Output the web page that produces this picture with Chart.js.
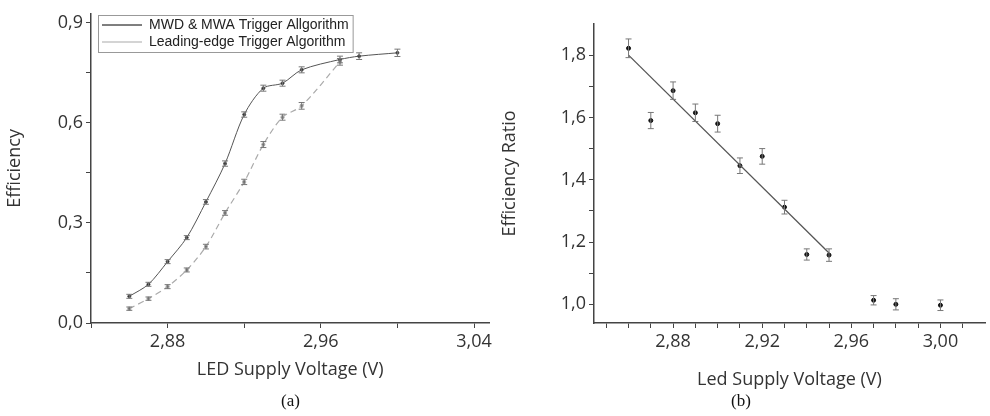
<!DOCTYPE html>
<html>
<head>
<meta charset="utf-8">
<script src="https://cdn.jsdelivr.net/npm/chart.js@4"></script>
<style>
body{margin:0;background:#fff;width:990px;height:416px;position:relative;overflow:hidden}
.c{position:absolute;top:0;height:395px}
.cap{position:absolute;top:391px;font:17px "Liberation Serif";color:#111}
</style>
</head>
<body>
<div class="c" style="left:0;width:495px"><canvas id="chartA"></canvas></div>
<div class="c" style="left:495px;width:495px"><canvas id="chartB"></canvas></div>
<div class="cap" style="left:281px">(a)</div>
<div class="cap" style="left:731px">(b)</div>
<script>
// (a) efficiency vs voltage
var voltA = [2.86,2.87,2.88,2.89,2.90,2.91,2.92,2.93,2.94,2.95,2.97,2.98,3.00];
var mwdEff = [0.080,0.116,0.184,0.256,0.363,0.478,0.625,0.704,0.719,0.759,0.790,0.800,0.810];
var mwdErr = [0.006,0.006,0.006,0.006,0.007,0.008,0.008,0.009,0.009,0.009,0.010,0.010,0.011];
var voltLead = [2.86,2.87,2.88,2.89,2.90,2.91,2.92,2.93,2.94,2.95,2.97];
var leadEff = [0.043,0.073,0.109,0.159,0.229,0.330,0.423,0.535,0.617,0.651,0.783];
var leadErr = [0.005,0.005,0.006,0.006,0.007,0.007,0.008,0.009,0.009,0.010,0.010];
var ticksXA = [2.84,2.88,2.92,2.96,3.00,3.04];
var labelsXA = [2.88,2.96,3.04];
var ticksYA = [0,0.15,0.3,0.45,0.6,0.75,0.9];
var labelsYA = [0,0.3,0.6,0.9];

// (b) efficiency ratio
var voltB = [2.86,2.87,2.88,2.89,2.90,2.91,2.92,2.93,2.94,2.95,2.97,2.98,3.00];
var ratio = [1.822,1.590,1.686,1.615,1.580,1.445,1.475,1.312,1.160,1.158,1.013,1.000,0.997];
var ratioErr = [0.030,0.026,0.028,0.028,0.027,0.025,0.025,0.022,0.018,0.020,0.015,0.018,0.017];
var fitX = [2.86,2.95];
var fitY = [1.800,1.165];
var ticksXB = [2.85,2.86,2.87,2.88,2.89,2.90,2.91,2.92,2.93,2.94,2.95,2.96,2.97,2.98,2.99,3.00,3.01];
var labelsXB = [2.88,2.92,2.96,3.00];
var ticksYB = [1.0,1.1,1.2,1.3,1.4,1.5,1.6,1.7,1.8];
var labelsYB = [1.0,1.2,1.4,1.6,1.8];

function pts(xs, ys){ return xs.map(function(x,i){ return {x:x, y:ys[i]}; }); }
function comma(v, d){ return v.toFixed(d).replace('.', ','); }
function has(list, v){ return list.some(function(l){ return Math.abs(l-v) < 1e-6; }); }

var errorBars = {
  id: 'errorBars',
  afterDatasetsDraw: function(chart){
    var ctx = chart.ctx, xs = chart.scales.x, ys = chart.scales.y;
    chart.data.datasets.forEach(function(ds){
      if(!ds.err) return;
      ctx.save();
      ctx.strokeStyle = '#777';
      ctx.lineWidth = 1;
      ds.data.forEach(function(p,i){
        var px = xs.getPixelForValue(p.x);
        var y1 = ys.getPixelForValue(p.y + ds.err[i]);
        var y2 = ys.getPixelForValue(p.y - ds.err[i]);
        ctx.beginPath();
        ctx.moveTo(px, y1); ctx.lineTo(px, y2);
        ctx.moveTo(px-3, y1); ctx.lineTo(px+3, y1);
        ctx.moveTo(px-3, y2); ctx.lineTo(px+3, y2);
        ctx.stroke();
      });
      ctx.restore();
    });
  }
};

// nudge the legend into the plot and frame it
var DX = 8, DY = 15;
var legendBox = {
  id: 'legendBox',
  afterLayout: function(chart){
    var lg = chart.legend;
    lg.left += DX; lg.right += DX; lg.top += DY; lg.bottom += DY;
    lg.legendHitBoxes.forEach(function(b){ b.left += DX; b.top += DY; });
  },
  afterDraw: function(chart){
    var hb = chart.legend.legendHitBoxes;
    if(!hb || !hb.length) return;
    var l = Math.min.apply(null, hb.map(function(b){ return b.left; })) - DX;
    var t = Math.min.apply(null, hb.map(function(b){ return b.top; }));
    var r = Math.max.apply(null, hb.map(function(b){ return b.left + b.width; })) - DX;
    var btm = Math.max.apply(null, hb.map(function(b){ return b.top + b.height; }));
    var ctx = chart.ctx;
    ctx.save();
    ctx.strokeStyle = '#999';
    ctx.lineWidth = 1;
    ctx.strokeRect(Math.round(l - 4) + 0.5, Math.round(t - 3) + 0.5, r - l + 8, btm - t + 6);
    ctx.restore();
  }
};

var font = {family: '"Open Sans"', size: 18};
function axis(min, max, tickList, labelList, dec, title, width, titlePad){
  return {
    type: 'linear', min: min, max: max,
    afterBuildTicks: function(s){ s.ticks = tickList.map(function(v){ return {value:v}; }); },
    ticks: { autoSkip:false, maxRotation:0, minRotation:0, color:'#333', font:font,
      callback: function(v){ return has(labelList, v) ? comma(v, dec) : ''; } },
    grid: { display:true, drawOnChartArea:false, drawTicks:true, tickLength:5, color:'#444' },
    border: { color:'#444', width:1.5 },
    title: { display:true, text:title, color:'#333', font:font, padding:titlePad || 4 },
    afterFit: function(s){ if(s.isHorizontal()) s.height = width; else s.width = width; }
  };
}

Chart.defaults.animation = false;

new Chart(document.getElementById('chartA'), {
  type: 'line',
  data: { datasets: [
    { label:'MWD & MWA Trigger Allgorithm', data:pts(voltA, mwdEff), err:mwdErr,
      borderColor:'#555', borderWidth:1, backgroundColor:'#111', pointRadius:1.5, tension:0.3 },
    { label:'Leading-edge Trigger Algorithm', data:pts(voltLead, leadEff), err:leadErr,
      borderColor:'#aaa', borderWidth:1.2, borderDash:[6,4], backgroundColor:'#555', pointRadius:1.5, tension:0.3 }
  ]},
  options: {
    responsive:true, maintainAspectRatio:false,
    layout:{ padding:{ top:13, right:0 } },
    plugins:{
      legend:{ position:'chartArea', align:'start',
        labels:{ font:{family:'"Liberation Sans"', size:14}, color:'#222', boxWidth:40, boxHeight:0, padding:3 } },
      tooltip:{ enabled:false }
    },
    scales:{
      x: axis(2.84, 3.048, ticksXA, labelsXA, 2, 'LED Supply Voltage (V)', 72, {top:0, bottom:14}),
      y: axis(0, 0.927, ticksYA, labelsYA, 1, 'Efficiency', 91)
    }
  },
  plugins:[errorBars, legendBox]
});

new Chart(document.getElementById('chartB'), {
  type: 'scatter',
  data: { datasets: [
    { label:'fit', data:pts(fitX, fitY), showLine:true, borderColor:'#555', borderWidth:1.3, pointRadius:0 },
    { label:'ratio', data:pts(voltB, ratio), err:ratioErr, backgroundColor:'#111', borderColor:'#111', pointRadius:2 }
  ]},
  options: {
    responsive:true, maintainAspectRatio:false,
    layout:{ padding:{ top:24, right:0 } },
    plugins:{ legend:{ display:false }, tooltip:{ enabled:false } },
    scales:{
      x: axis(2.8445, 3.02, ticksXB, labelsXB, 2, 'Led Supply Voltage (V)', 72),
      y: axis(0.94, 1.9, ticksYB, labelsYB, 1, 'Efficiency Ratio', 99)
    }
  },
  plugins:[errorBars]
});
</script>
</body>
</html>
